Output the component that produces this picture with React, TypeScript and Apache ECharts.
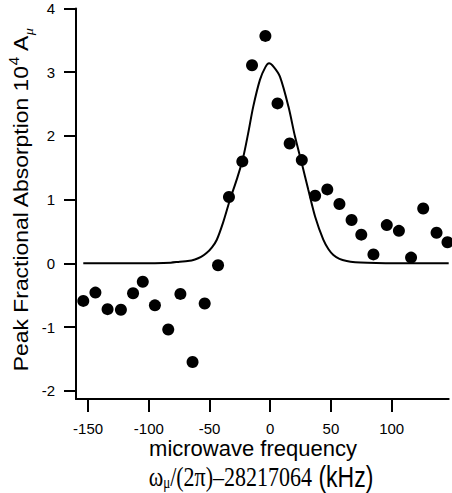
import React, { useEffect, useRef } from "react";
import * as echarts from "echarts";

// Measured points: microwave frequency offset (kHz) and peak fractional absorption (10^4 A_mu)
const freqs = [-154, -144, -134, -123, -113, -105, -95, -84, -74, -64, -54, -43, -34, -23, -15, -4, 6, 16, 26, 37, 47, 57, 67, 75, 85, 96, 106, 116, 126, 137, 146];
const absorption = [-0.59, -0.46, -0.72, -0.73, -0.47, -0.29, -0.66, -1.04, -0.48, -1.55, -0.63, -0.03, 1.04, 1.6, 3.11, 3.57, 2.51, 1.88, 1.62, 1.06, 1.16, 0.93, 0.68, 0.45, 0.14, 0.6, 0.51, 0.09, 0.86, 0.48, 0.33];

// Fitted line shape
const fitFreqs = [-154, -120, -95, -82, -74.5, -68, -62, -57, -52.5, -48, -44, -39, -33.3, -27.7, -22.8, -18.2, -14, -8.5, -4, -1, 3, 8, 15, 20.4, 26, 31.4, 37, 43.7, 48, 52, 57, 63, 70, 80, 95, 120, 147];
const fitValues = [0, 0, 0.002, 0.01, 0.025, 0.035, 0.06, 0.1, 0.16, 0.25, 0.37, 0.63, 0.99, 1.31, 1.62, 2.04, 2.46, 2.88, 3.08, 3.14, 3.08, 2.93, 2.46, 1.99, 1.57, 1.15, 0.73, 0.37, 0.22, 0.13, 0.07, 0.036, 0.018, 0.008, 0.002, 0, 0];

// Axis ranges and tick labels
const xRange = [-160, 147];
const yRange = [-2.13, 4];
const xTickRange = [-150, 100];
const xTickStep = 50;
const yTickRange = [-2, 4];
const yTickStep = 1;

export default function App() {
  const ref = useRef<HTMLDivElement>(null);
  useEffect(() => {
    const chart = echarts.init(ref.current!, null, { renderer: "svg" });
    const W = 452, H = 493;
    const sans = "Liberation Sans, Arial, sans-serif";
    const serif = "Liberation Serif, Times New Roman, serif";

    // plot frame (pixels)
    const L = 76, R = 448.7, T = 8.5, B = 399;
    const sx = (R - L) / (xRange[1] - xRange[0]);
    const sy = (B - T) / (yRange[1] - yRange[0]);
    const px = (v: number) => L + (v - xRange[0]) * sx;
    const py = (v: number) => B - (v - yRange[0]) * sy;
    // tick grid spans exactly the tick-label ranges
    const tL = px(xTickRange[0]), tR = px(xTickRange[1]);
    const tT = py(yTickRange[1]), tB = py(yTickRange[0]);

    const lbl = { color: "#000", fontSize: 15, fontFamily: sans };

    chart.setOption({
      animation: false,
      grid: [
        { left: L, right: W - R, top: T, bottom: H - B },
        { left: tL, right: W - tR, top: tT, bottom: H - tB },
      ],
      xAxis: [
        {
          type: "value", gridIndex: 0, min: xRange[0], max: xRange[1], z: 10,
          axisLine: { show: true, onZero: false, lineStyle: { color: "#000", width: 2 } },
          axisTick: { show: false }, axisLabel: { show: false }, splitLine: { show: false },
        },
        {
          type: "value", gridIndex: 1, min: xTickRange[0], max: xTickRange[1], interval: xTickStep,
          offset: B - tB, z: 10,
          axisLine: { show: false, onZero: false },
          axisTick: { show: true, length: 13, lineStyle: { color: "#000", width: 2 } },
          axisLabel: { show: true, margin: 22, ...lbl }, splitLine: { show: false },
        },
      ],
      yAxis: [
        {
          type: "value", gridIndex: 0, min: yRange[0], max: yRange[1], z: 10,
          axisLine: { show: true, onZero: false, lineStyle: { color: "#000", width: 2 } },
          axisTick: { show: false }, axisLabel: { show: false }, splitLine: { show: false },
        },
        {
          type: "value", gridIndex: 1, min: yTickRange[0], max: yTickRange[1], interval: yTickStep,
          offset: tL - L, z: 10,
          axisLine: { show: false, onZero: false },
          axisTick: { show: true, length: 12, lineStyle: { color: "#000", width: 2 } },
          axisLabel: { show: true, margin: 21, ...lbl }, splitLine: { show: false },
        },
      ],
      series: [
        {
          type: "line", xAxisIndex: 0, yAxisIndex: 0,
          data: fitFreqs.map((f, i) => [f, fitValues[i]]),
          showSymbol: false, smooth: 0.3, clip: false,
          lineStyle: { color: "#000", width: 2 }, z: 2,
        },
        {
          type: "scatter", xAxisIndex: 0, yAxisIndex: 0,
          data: freqs.map((f, i) => [f, absorption[i]]),
          symbol: "circle", symbolSize: 12,
          itemStyle: { color: "#000", opacity: 1 }, clip: false, z: 3,
        },
      ],
      graphic: [
        {
          type: "text", x: 21, y: 200, rotation: Math.PI / 2, scaleX: 1.09,
          style: {
            text: "{n|Peak Fractional Absorption 10}{sup|4}{n| A}{sub|μ}",
            align: "center", verticalAlign: "middle", fill: "#000",
            rich: {
              n: { fontSize: 21, fontFamily: sans, lineHeight: 28, fill: "#000" },
              sup: { fontSize: 14, fontFamily: sans, verticalAlign: "top", lineHeight: 14, fill: "#000" },
              sub: { fontSize: 13, fontFamily: serif, fontStyle: "italic", verticalAlign: "bottom", lineHeight: 13, fill: "#000" },
            },
          },
        },
        {
          type: "text", x: 253, y: 448,
          style: {
            text: "microwave frequency", fontSize: 22, lineHeight: 22, fontFamily: sans,
            align: "center", verticalAlign: "middle", fill: "#000",
          },
        },
        {
          type: "text", x: 261, y: 477, scaleY: 1.25,
          style: {
            text: "{w|ω}{sub|μ}{s|/(2π)–28217064}{k| (kHz)}",
            align: "center", verticalAlign: "middle", fill: "#000",
            rich: {
              w: { fontSize: 22, fontFamily: serif, lineHeight: 22, fill: "#000" },
              sub: { fontSize: 13, fontFamily: serif, verticalAlign: "bottom", lineHeight: 13, fill: "#000" },
              s: { fontSize: 22, fontFamily: serif, lineHeight: 22, fill: "#000" },
              k: { fontSize: 23, fontFamily: sans, lineHeight: 22, fill: "#000" },
            },
          },
        },
      ],
    });
    return () => chart.dispose();
  }, []);
  return (
    <div style={{ position: "fixed", left: 0, top: 0, width: 452, height: 493, background: "#fff" }}>
      <div ref={ref} style={{ position: "absolute", left: 0, top: 0, width: 452, height: 493 }} />
    </div>
  );
}
